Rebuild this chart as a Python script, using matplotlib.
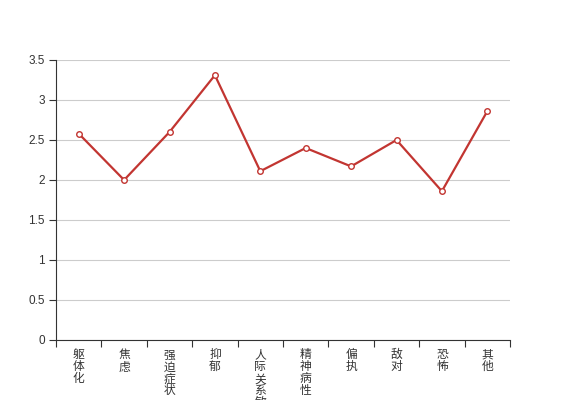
import numpy as np
from matplotlib import pyplot as plt

# Data
categories = ['躯体化', '焦虑', '强迫症状', '抑郁', '人际关系敏感', '精神病性', '偏执', '敌对', '恐怖', '其他']
values = [2.58, 2.00, 2.60, 3.31, 2.11, 2.40, 2.17, 2.50, 1.86, 2.86]

plt.rcParams['font.family'] = ['Liberation Sans', 'Noto Sans CJK SC', 'DejaVu Sans']

fig = plt.figure(figsize=(5.67, 4.0), dpi=100)
ax = fig.add_axes([56/567, 60/400, (510-56)/567, (340-60)/400])

x = np.arange(len(categories))
ax.plot(x, values, color='#c23531', lw=1.6, marker='o', ms=4,
        mfc='white', mec='#c23531', mew=1.0, zorder=3, clip_on=False)

ax.set_xlim(-0.5, len(categories) - 0.5)
ax.set_ylim(0, 3.5)
ax.set_yticks(np.arange(0, 3.51, 0.5))
ax.set_yticklabels(['0', '0.5', '1', '1.5', '2', '2.5', '3', '3.5'])
ax.grid(axis='y', color='#cccccc', lw=0.8, zorder=0)

# boundary ticks, labels at centres
ax.set_xticks(np.arange(-0.5, len(categories) + 0.5, 1))
ax.set_xticklabels([])
ax.set_xticks(x, minor=True)
ax.set_xticklabels(['\n'.join(c) for c in categories], minor=True,
                   family=['Noto Sans CJK SC', 'DejaVu Sans'], fontsize=8.5,
                   va='top', linespacing=0.9, color='#333333')
ax.tick_params(axis='x', which='minor', length=0, pad=6)
ax.tick_params(axis='x', which='major', length=5, width=0.8, color='#333333')
ax.tick_params(axis='y', length=5, width=0.8, color='#333333', labelsize=8.5,
               labelcolor='#333333', pad=3)

for s in ['top', 'right']:
    ax.spines[s].set_visible(False)
for s in ['left', 'bottom']:
    ax.spines[s].set_color('#333333')
    ax.spines[s].set_linewidth(0.8)

fig.savefig('out.png', dpi=100)
